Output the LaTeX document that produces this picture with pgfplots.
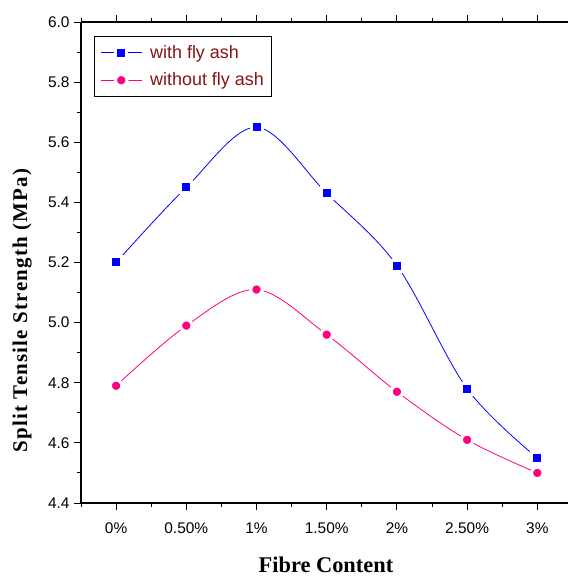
\documentclass[border=0pt]{standalone}
\usepackage{pgfplots}
\pgfplotsset{compat=1.18}
\usepackage{fontspec}
\setmainfont{Liberation Sans}
\newfontfamily\serifb[LetterSpace=6]{Liberation Serif}
\newfontfamily\serifc{Liberation Serif}
\definecolor{fablue}{RGB}{0,0,255}
\definecolor{fapink}{RGB}{255,0,128}
\definecolor{legred}{RGB}{135,20,20}
\begin{document}
\begin{tikzpicture}
\begin{axis}[
  scale only axis,
  width=487bp, height=481bp,
  xmin=-0.5, xmax=6.437,
  ymin=4.4, ymax=6.0,
  axis x line*=box, axis y line*=left,
  axis line style={line width=1.1pt},
  xtick={0,1,2,3,4,5,6},
  xticklabels={0\%,0.50\%,1\%,1.50\%,2\%,2.50\%,3\%},
  ytick={4.4,4.6,4.8,5.0,5.2,5.4,5.6,5.8,6.0},
  yticklabel style={/pgf/number format/fixed,/pgf/number format/fixed zerofill,/pgf/number format/precision=1},
  /pgf/number format/assume math mode=true,
  minor x tick num=1, minor y tick num=1,
  extra x ticks={-0.5}, extra x tick labels={}, extra x tick style={major tick length=4bp},
  tick align=outside,
  major tick length=7bp, minor tick length=4bp,
  every tick/.style={black, line width=0.9pt},
  tick label style={font=\fontsize{15.5}{17}\selectfont},
  xticklabel style={yshift=-9bp},
  yticklabel style={xshift=-1bp},
  xlabel={\serifc\bfseries\fontsize{22.5}{24}\selectfont Fibre Content},
  xlabel style={at={(axis description cs:0.503,0)}, anchor=north, yshift=-50bp},
  legend style={at={(axis cs:-0.315,5.953)}, anchor=north west, draw=black, line width=0.8pt,
    font=\fontsize{18}{20}\selectfont, text=legred, row sep=9bp, column sep=6bp,
    inner xsep=6bp, inner ysep=7bp,
    cells={anchor=west}},
  legend image code/.code={\draw[#1, mark=none] (0bp,0bp) -- (41bp,0bp); \draw[#1, only marks] plot coordinates {(20.5bp,0bp)};},
  clip=false,
]
\addplot[fablue, line width=0.8pt, smooth, tension=0.55, mark=square*, mark size=5.5bp, mark options={fill=fablue, draw=white, line width=3bp}]
  coordinates {(0,5.20) (1,5.45) (2,5.65) (3,5.43) (4,5.19) (5,4.78) (6,4.55)};
\addlegendentry{with fly ash}
\addplot[fapink, line width=0.8pt, smooth, tension=0.55, mark=*, mark size=5.7bp, mark options={fill=fapink, draw=white, line width=3bp}]
  coordinates {(0,4.79) (1,4.99) (2,5.11) (3,4.96) (4,4.77) (5,4.61) (6,4.50)};
\addlegendentry{without fly ash}
\node[rotate=90, anchor=south, inner sep=1bp] at (axis description cs:-0.0986,0.40)
  {\serifb\bfseries\fontsize{21}{24}\selectfont Split Tensile Strength (MPa)};
\end{axis}
\pgfresetboundingbox
\path[use as bounding box] (current axis.south west) ++(-81bp,-73bp) rectangle ++(568bp,576bp);
\end{tikzpicture}
\end{document}
